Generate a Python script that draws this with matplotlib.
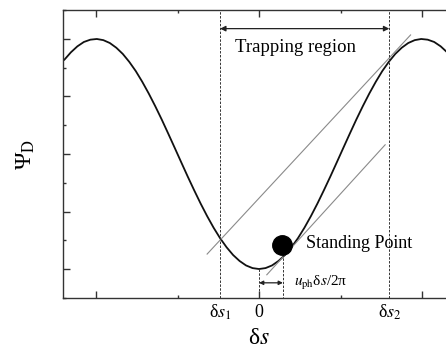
import numpy as np
import matplotlib
matplotlib.use('Agg')
import matplotlib.pyplot as plt
from matplotlib.ticker import MultipleLocator

plt.rcParams['font.family'] = ['Liberation Serif', 'DejaVu Serif']
plt.rcParams['mathtext.fontset'] = 'stix'

# potential curve (x in rad, value normalised)
s_vals = [-3.75, -3.625, -3.5, -3.375, -3.25, -3.125, -3.0, -2.875, -2.75, -2.625,
          -2.5, -2.375, -2.25, -2.125, -2.0, -1.875, -1.75, -1.625, -1.5, -1.375,
          -1.25, -1.125, -1.0, -0.875, -0.75, -0.625, -0.5, -0.375, -0.25, -0.125,
          0.0, 0.125, 0.25, 0.375, 0.5, 0.625, 0.75, 0.875, 1.0, 1.125,
          1.25, 1.375, 1.5, 1.625, 1.75, 1.875, 2.0, 2.125, 2.25, 2.375,
          2.5, 2.625, 2.75, 2.875, 3.0, 3.125, 3.25, 3.375, 3.5, 3.625, 3.75]
psi_vals = [0.820, 0.884, 0.936, 0.974, 0.994, 1.000, 0.990, 0.965, 0.924, 0.870,
            0.801, 0.721, 0.628, 0.526, 0.416, 0.300, 0.178, 0.054, -0.071, -0.195,
            -0.315, -0.431, -0.540, -0.641, -0.732, -0.811, -0.878, -0.930, -0.969, -0.992,
            -1.000, -0.992, -0.969, -0.930, -0.878, -0.811, -0.732, -0.641, -0.540, -0.431,
            -0.315, -0.195, -0.071, 0.054, 0.178, 0.300, 0.416, 0.526, 0.628, 0.721,
            0.801, 0.870, 0.924, 0.965, 0.990, 1.000, 0.994, 0.974, 0.936, 0.884, 0.820]

upper_x = [-1.0, 2.92]
upper_y = [-0.87, 1.035]
lower_x = [0.15, 2.43]
lower_y = [-1.05, 0.08]

ds1 = -0.75
ds2 = 2.51
s_stand = 0.46
psi_stand = -0.79
arrow_y_trap = 1.09
arrow_y_shift = -1.12

fig = plt.figure(figsize=(4.46, 3.47), dpi=100)
ax = fig.add_axes([63/446, 49/347, 387/446, 288/347])

ax.plot(s_vals, psi_vals, color='#111111', lw=1.3)
ax.plot(upper_x, upper_y, color='#8a8a8a', lw=0.8)
ax.plot(lower_x, lower_y, color='#8a8a8a', lw=0.8)

dash = (0, (2.5, 1.5))
ax.axvline(ds1, color='#333333', lw=0.7, ls=dash)
ax.axvline(ds2, color='#333333', lw=0.7, ls=dash)
ax.plot([0, 0], [-1.0, -1.25], color='#333333', lw=0.7, ls=dash)
ax.plot([s_stand, s_stand], [-0.87, -1.25], color='#333333', lw=0.7, ls=dash)

ax.plot([s_stand - 0.02], [psi_stand], 'o', color='black', ms=14)

ax.annotate('', xy=(ds1, arrow_y_trap), xytext=(ds2, arrow_y_trap),
            arrowprops=dict(arrowstyle='<|-|>', color='#222222', lw=0.9,
                            mutation_scale=8, shrinkA=0, shrinkB=0))
ax.annotate('', xy=(0, arrow_y_shift), xytext=(s_stand, arrow_y_shift),
            arrowprops=dict(arrowstyle='<|-|>', color='#222222', lw=0.9,
                            mutation_scale=6, shrinkA=0, shrinkB=0))

ax.text(0.70, 0.93, 'Trapping region', fontsize=13.5, ha='center', va='center')
ax.text(0.9, -0.78, 'Standing Point', fontsize=13, ha='left', va='center')
ax.text(0.68, -1.12, r'$u_{\rm ph}$δ$s$/2π', fontsize=11, ha='left', va='center')

# custom x tick labels
ax.text(ds1, -1.38, r'δ$s_{1}$', fontsize=13, ha='center', va='center')
ax.text(0, -1.38, '0', fontsize=13, ha='center', va='center')
ax.text(ds2, -1.38, r'δ$s_{2}$', fontsize=13, ha='center', va='center')
ax.text(0, -1.6, r'δ$s$', fontsize=17, ha='center', va='center')
ax.text(-4.5, 0, r'Ψ$_{\rm D}$', fontsize=17, ha='center', va='center',
        rotation=90)

ax.set_xlim(-3.777, -3.777 + 387/51.9)
ax.set_ylim(-1.252, 1.252)

ax.xaxis.set_major_locator(MultipleLocator(np.pi))
ax.xaxis.set_minor_locator(MultipleLocator(np.pi / 2))
ax.yaxis.set_major_locator(MultipleLocator(0.5))
ax.yaxis.set_minor_locator(MultipleLocator(0.25))
ax.tick_params(which='both', direction='in', top=True, bottom=True,
               left=True, right=False, labelbottom=False, labelleft=False,
               color='#333333', width=1.0)
ax.tick_params(which='major', length=5)
ax.tick_params(which='minor', length=2.5)
for sp in ax.spines.values():
    sp.set_color('#333333')
    sp.set_linewidth(1.0)

fig.savefig('out.png', dpi=100)
